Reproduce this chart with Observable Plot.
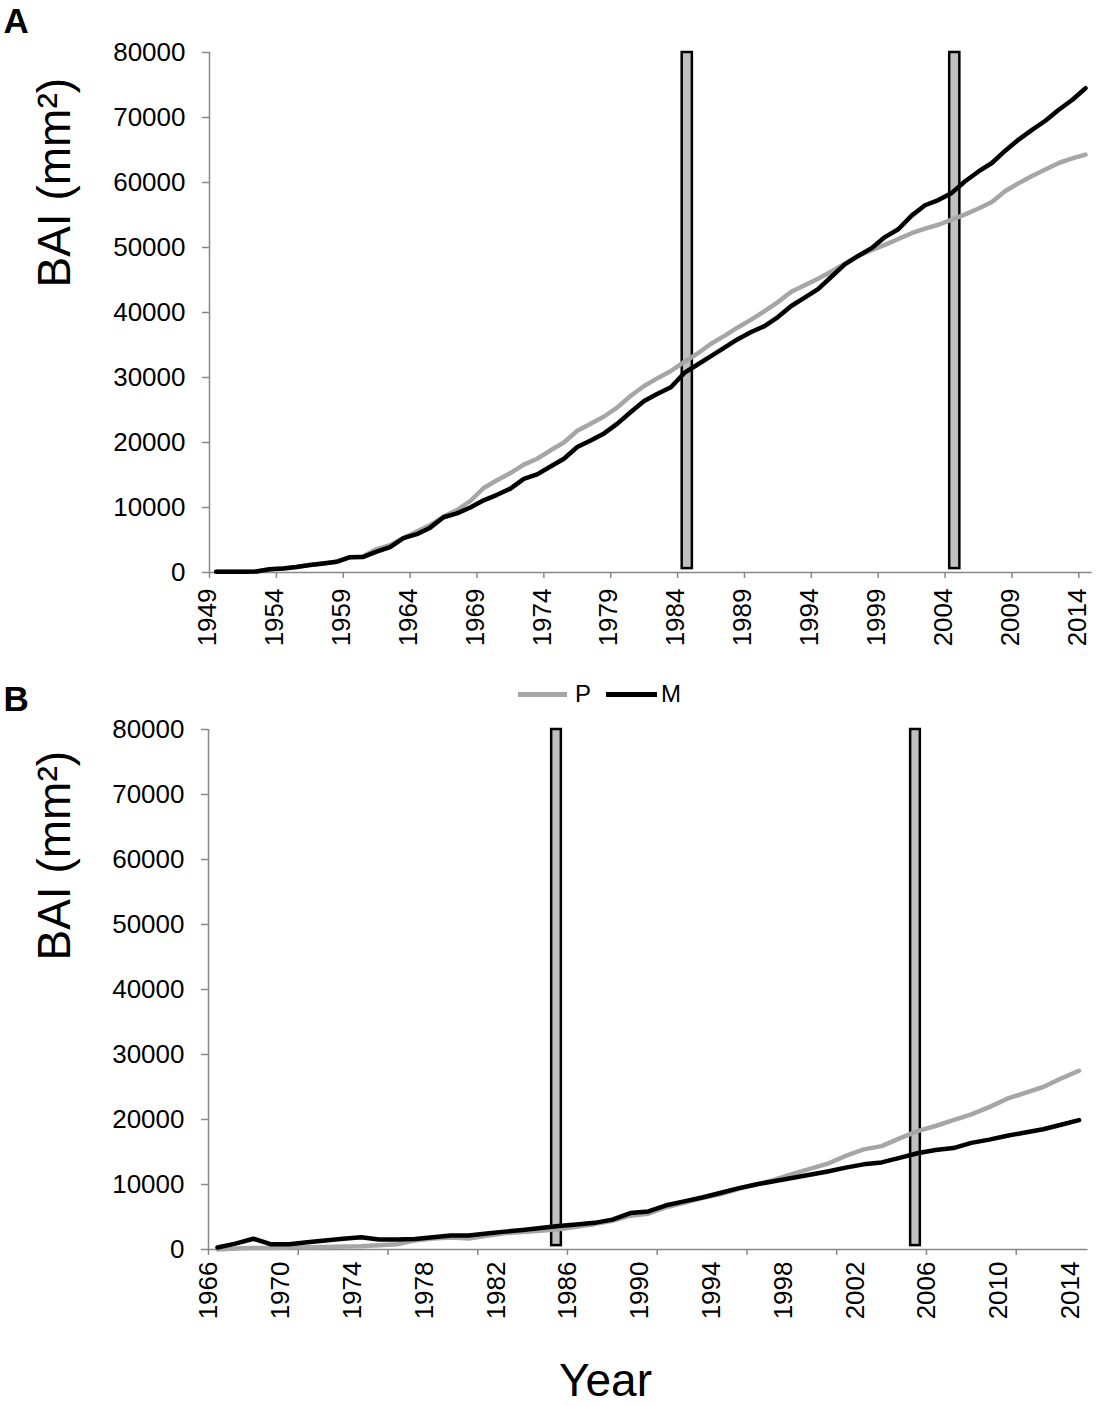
<!DOCTYPE html>
<html>
<head>
<meta charset="utf-8">
<script src="https://cdn.jsdelivr.net/npm/d3@7"></script>
<script src="https://cdn.jsdelivr.net/npm/@observablehq/plot@0.6"></script>
<style>
  body { margin: 0; background: #fff; }
  #wrap { position: relative; width: 1101px; height: 1406px; background: #fff;
          font-family: "Liberation Sans", Arial, sans-serif; }
  #wrap svg { display: block; }
  .sw { position: absolute; height: 5px; }
  .lg { position: absolute; font-size: 24px; line-height: 24px; color: #000; }
</style>
</head>
<body>
<div id="wrap"></div>
<script>
// ---------- data ----------
const yearsA = d3.range(1949, 2015);          // 1949..2014 categories
const P_A = [100,100,100,150,500,600,850,1150,1400,1650,
  2350,2500,3600,4200,5300,6300,7300,8600,9600,11000,
  13000,14200,15300,16600,17500,18800,20000,21800,22900,24000,
  25400,27200,28700,29900,31000,32400,33700,35200,36400,37700,
  38900,40200,41600,43200,44200,45200,46300,47500,48700,49600,
  50400,51300,52200,52900,53500,54300,55100,56000,57000,58700,
  59900,61000,62000,63000,63700,64300];
const M_A = [100,100,100,150,500,600,850,1150,1400,1650,
  2350,2400,3200,3900,5300,5900,6900,8500,9100,10000,
  11100,11950,12900,14400,15100,16300,17500,19300,20300,21400,
  22900,24700,26400,27500,28500,30700,32000,33300,34600,35900,
  37000,37900,39300,41000,42300,43600,45500,47400,48700,49900,
  51600,52800,54900,56500,57300,58400,60200,61700,63000,64900,
  66600,68100,69500,71200,72700,74500];
const barsA = [1984, 2004];
const xLabelsA = [1949,1954,1959,1964,1969,1974,1979,1984,1989,1994,1999,2004,2009,2014];
const xTicksA = [1948.5,1953.5,1958.5,1963.5,1968.5,1973.5,1978.5,1983.5,1988.5,1993.5,1998.5,2003.5,2008.5,2013.5];

const yearsB = d3.range(1966, 2015);          // 1966..2014 categories
const P_B = [0,150,250,250,300,350,400,450,500,650,
  800,1400,1700,1850,1700,2100,2500,2700,2900,3100,
  3500,3900,4400,5200,5500,6500,7200,7900,8500,9300,
  10000,10700,11600,12400,13200,14400,15400,15900,17100,18200,
  19000,19900,20800,21900,23200,24100,25000,26300,27500];
const M_B = [300,900,1650,800,800,1100,1400,1650,1900,1550,
  1550,1600,1900,2150,2150,2450,2750,3000,3300,3600,
  3850,4100,4600,5600,5850,6800,7400,8000,8700,9400,
  10000,10500,11000,11500,12000,12600,13100,13400,14100,14800,
  15300,15600,16400,16900,17500,18000,18500,19200,19900];
const barsB = [1985, 2005];
const xLabelsB = [1966,1970,1974,1978,1982,1986,1990,1994,1998,2002,2006,2010,2014];
const xTicksB = [1965.5,1970.5,1975.5,1980.5,1985.5,1990.5,1995.5,2000.5,2005.5,2010.5];

const yTicks = [0,10000,20000,30000,40000,50000,60000,70000,80000];
const yLabel = "BAI (mm²)";
const series = ["P", "M"];

// ---------- style ----------
const FONT = '"Liberation Sans", Arial, sans-serif';
const AXIS = "#888888";
const COL = {P: "#a6a6a6", M: "#000000"};

function panel(o) {
  const dataP = o.years.map((yr, i) => ({year: yr, v: o.P[i]}));
  const dataM = o.years.map((yr, i) => ({year: yr, v: o.M[i]}));
  return Plot.plot({
    width: 1101,
    height: o.height,
    marginTop: o.marginTop,
    marginBottom: o.marginBottom,
    marginLeft: o.marginLeft,
    marginRight: o.marginRight,
    style: {fontFamily: FONT, fontSize: "26px", background: "white", color: "black", overflow: "visible"},
    x: {domain: o.xDomain, label: null},
    y: {domain: [0, 80000], label: null},
    marks: [
      Plot.rect(o.bars, {x1: d => d - o.barHalf, x2: d => d + o.barHalf, y1: 600, y2: 80000,
        fill: "#c0c0c0", stroke: "#000", strokeWidth: 2.5, dx: o.barDx}),
      Plot.ruleY([0], {stroke: AXIS, strokeWidth: 1.5}),
      Plot.ruleX([o.xDomain[0]], {y1: 0, y2: 80000, stroke: AXIS, strokeWidth: 1.5}),
      Plot.axisX({ticks: o.xTicks, tickSize: 6, tickFormat: () => "", stroke: AXIS, strokeWidth: 1.5, label: null}),
      Plot.axisY({ticks: yTicks, tickSize: 7, tickFormat: () => "", stroke: AXIS, strokeWidth: 1.5, label: null}),
      Plot.axisY({ticks: yTicks, tickSize: 0, tickPadding: 24, tickFormat: d => String(d), fontSize: 26, fill: "#000", label: null}),
      Plot.text(o.xLabels, {x: d => d, frameAnchor: "bottom", text: d => String(d), rotate: -90,
        textAnchor: "end", dy: o.labelDy, fontSize: 26, fill: "#000"}),
      Plot.line(dataP, {x: "year", y: "v", stroke: COL.P, strokeWidth: 4.5, strokeLinejoin: "round"}),
      Plot.line(dataM, {x: "year", y: "v", stroke: COL.M, strokeWidth: 4.5, strokeLinejoin: "round"}),
      Plot.text([yLabel], {frameAnchor: "left", rotate: -90, dx: 55 - o.marginLeft, dy: o.yLabelDy,
        fontSize: 46, fill: "#000"}),
      Plot.text([o.letter], {frameAnchor: "top-left", textAnchor: "start", lineAnchor: "bottom",
        dx: 3 - o.marginLeft, dy: o.letterDy, fontSize: 35, fontWeight: "bold", fill: "#000"}),
      ...(o.extra || [])
    ]
  });
}

const wrap = document.getElementById("wrap");

const svgA = panel({
  years: yearsA, P: P_A, M: M_A, bars: barsA, barHalf: 0.38, barDx: 3,
  xDomain: [1948.5, 2014.5], xLabels: xLabelsA, xTicks: xTicksA,
  height: 680, marginTop: 52, marginBottom: 108, marginLeft: 209, marginRight: 9.3,
  labelDy: 16, yLabelDy: -25, letter: "A", letterDy: -20
});
wrap.appendChild(svgA);

const svgB = panel({
  years: yearsB, P: P_B, M: M_B, bars: barsB, barHalf: 0.27, barDx: -2,
  xDomain: [1965.5, 2014.5], xLabels: xLabelsB, xTicks: xTicksB,
  height: 726, marginTop: 49, marginBottom: 157, marginLeft: 208, marginRight: 13.5,
  labelDy: 12, yLabelDy: -29, letter: "B", letterDy: -19,
  extra: [
    Plot.text(["Year"], {frameAnchor: "bottom", dx: 605 - (208 + 1087.5) / 2, dy: 146,
      lineAnchor: "bottom", fontSize: 46, fill: "#000"})
  ]
});
wrap.appendChild(svgB);

// ---------- legend ----------
const legendItems = [
  {name: series[0], color: COL.P, swLeft: 518, swWidth: 49, txtLeft: 575},
  {name: series[1], color: COL.M, swLeft: 606, swWidth: 51, txtLeft: 661}
];
for (const it of legendItems) {
  const sw = document.createElement("div");
  sw.className = "sw";
  sw.style.left = it.swLeft + "px";
  sw.style.top = "691.5px";
  sw.style.width = it.swWidth + "px";
  sw.style.background = it.color;
  wrap.appendChild(sw);
  const t = document.createElement("div");
  t.className = "lg";
  t.style.left = it.txtLeft + "px";
  t.style.top = "681.5px";
  t.textContent = it.name;
  wrap.appendChild(t);
}
</script>
</body>
</html>
